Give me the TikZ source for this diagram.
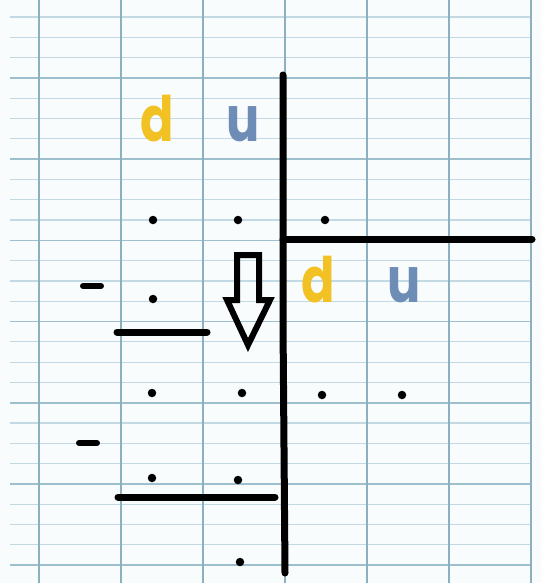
\documentclass[tikz,border=0pt]{standalone}
\usepackage{fontspec}
\newfontfamily\hand{Poppins}
\definecolor{paper}{HTML}{F8FCFD}
\definecolor{minorline}{HTML}{C3DAE5}
\definecolor{majorline}{HTML}{9EBFCD}
\definecolor{vline}{HTML}{8DB0C0}
\definecolor{dyellow}{HTML}{F2C224}
\definecolor{ublue}{HTML}{6E8DB6}
\tikzset{
  ink/.style={line width=7pt, line cap=round, black},
  dashmark/.style={line width=6pt, line cap=round, black},
  pt/.style={circle, fill=black, inner sep=0pt, minimum size=8.5pt},
  letter/.style={font=\hand\bfseries\fontsize{58}{58}\selectfont, inner sep=0pt, anchor=base, xscale=0.85, yscale=1.08},
  dletter/.style={letter, text=dyellow},
  uletter/.style={letter, text=ublue}
}
\begin{document}
\begin{tikzpicture}[x=1pt,y=-1pt]
\useasboundingbox (0,0) rectangle (541,583);
\fill[paper] (0,0) rectangle (541,583);
% grid
\foreach \k in {0,...,27} {
  \pgfmathsetmacro{\yy}{17+20.3*\k}
  \pgfmathtruncatemacro{\m}{mod(\k,4)}
  \ifnum\m=3
    \draw[majorline, line width=1.6pt] (10,\yy) -- (532,\yy);
  \else
    \draw[minorline, line width=1.2pt] (10,\yy) -- (532,\yy);
  \fi
}
\foreach \xx in {39,121,203,285,367,449,531}
  \draw[vline, line width=1.5pt] (\xx,0) -- (\xx,583);
% letters
\node[dletter] (d1) at (157,142) {d};
\node[uletter] (u1) at (243,142) {u};
\node[dletter] (d2) at (318,302) {d};
\node[uletter] (u2) at (404,302) {u};
% dots
\node[pt] (p1) at (153,220) {};
\node[pt] (p2) at (238,220) {};
\node[pt] (p3) at (325,220) {};
\node[pt] (p4) at (153,299) {};
\node[pt] (p5) at (152,393) {};
\node[pt] (p6) at (242,393) {};
\node[pt] (p7) at (322,395) {};
\node[pt] (p8) at (402,395) {};
\node[pt] (p9) at (152,478) {};
\node[pt] (p10) at (238,480) {};
\node[pt] (p11) at (240,562) {};
% division bars
\draw[ink] (283,75) -- (283,323) -- (285,573);
\draw[ink] (283,239) -- (532,239);
\draw[ink] (117,332) -- (207,332);
\draw[ink] (118,497) -- (275,497);
% minus signs
\draw[dashmark] (83,286) -- (101,286);
\draw[dashmark] (79,443) -- (97,443);
% hollow arrow
\draw[line width=6pt, line join=miter, black]
  (237,255) -- (259,255) -- (259,300) -- (270,300) -- (248,345) -- (227,300) -- (237,300) -- cycle;
\end{tikzpicture}
\end{document}
